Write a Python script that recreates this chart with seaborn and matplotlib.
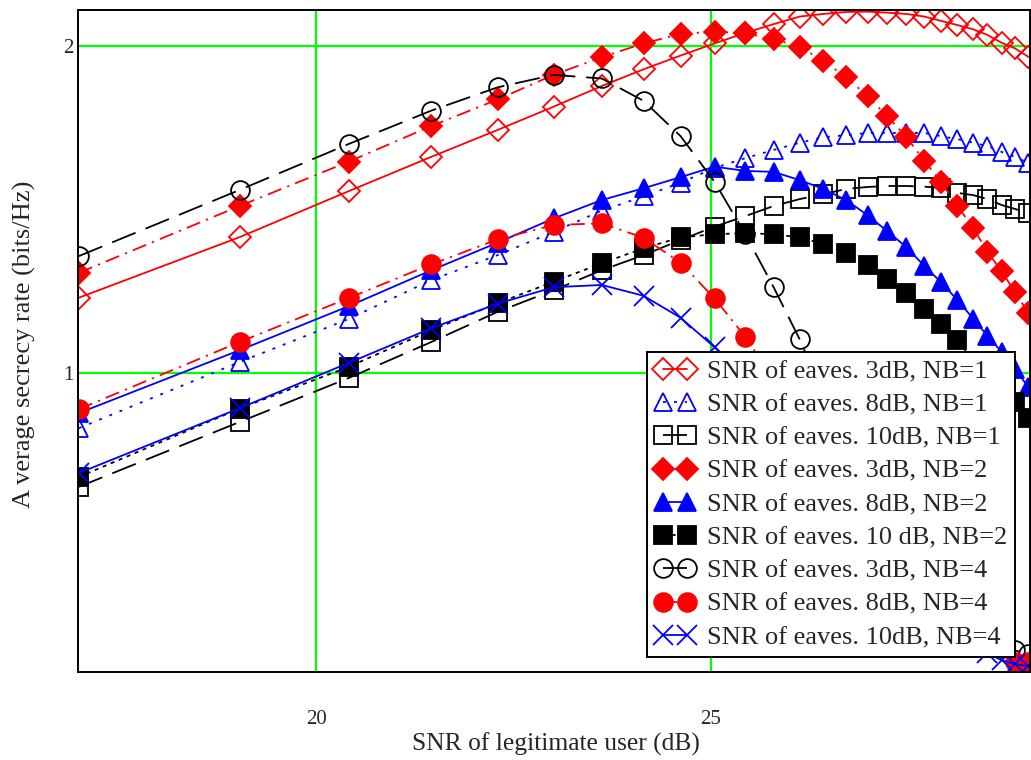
import numpy as np
import pandas as pd
import matplotlib
matplotlib.use("Agg")
import matplotlib.pyplot as plt
import seaborn as sns

# SNR of legitimate user (dB)
snr_db = [16.99, 19.03, 20.41, 21.46, 22.30, 23.01, 23.62, 24.15, 24.62, 25.05,
          25.44, 25.80, 26.13, 26.43, 26.72, 26.99, 27.24, 27.48, 27.71, 27.92,
          28.13, 28.33, 28.51, 28.69, 28.86, 29.03]

# Average secrecy rate (bits/Hz)
e3_nb1 = [1.231, 1.416, 1.556, 1.661, 1.743, 1.814, 1.877, 1.928, 1.970, 2.007,
          2.039, 2.066, 2.089, 2.097, 2.103, 2.104, 2.101, 2.097, 2.089, 2.076,
          2.063, 2.050, 2.033, 2.009, 1.992, 1.966]
e8_nb1 = [0.833, 1.035, 1.166, 1.285, 1.361, 1.432, 1.497, 1.540, 1.582, 1.627,
          1.657, 1.682, 1.704, 1.721, 1.727, 1.734, 1.734, 1.734, 1.734, 1.724,
          1.715, 1.704, 1.694, 1.676, 1.661, 1.642]
e10_nb1 = [0.654, 0.852, 0.986, 1.096, 1.188, 1.254, 1.315, 1.361, 1.407, 1.448,
           1.480, 1.511, 1.532, 1.547, 1.563, 1.569, 1.572, 1.572, 1.570, 1.566,
           1.551, 1.544, 1.532, 1.514, 1.502, 1.489]
e3_nb2 = [1.307, 1.511, 1.646, 1.755, 1.836, 1.911, 1.965, 2.007, 2.036, 2.043,
          2.038, 2.020, 1.997, 1.953, 1.904, 1.846, 1.785, 1.722, 1.649, 1.585,
          1.511, 1.444, 1.371, 1.312, 1.248, 1.184]
e8_nb2 = [0.879, 1.071, 1.205, 1.315, 1.399, 1.473, 1.529, 1.565, 1.599, 1.631,
          1.618, 1.615, 1.590, 1.563, 1.529, 1.483, 1.434, 1.386, 1.328, 1.279,
          1.224, 1.167, 1.115, 1.066, 1.013, 0.958]
e10_nb2 = [0.684, 0.893, 1.020, 1.132, 1.214, 1.280, 1.336, 1.382, 1.415, 1.425,
           1.428, 1.425, 1.415, 1.395, 1.366, 1.331, 1.288, 1.244, 1.198, 1.150,
           1.102, 1.035, 0.995, 0.955, 0.912, 0.864]
e3_nb4 = [1.358, 1.560, 1.700, 1.802, 1.873, 1.911, 1.900, 1.832, 1.724, 1.585,
          1.425, 1.263, 1.104, 0.934, 0.781, 0.644, 0.522, 0.415, 0.332, 0.271,
          0.226, 0.195, 0.177, 0.164, 0.155, 0.143]
e8_nb4 = [0.891, 1.096, 1.230, 1.333, 1.409, 1.453, 1.458, 1.414, 1.338, 1.229,
          1.112, 0.980, 0.842, 0.711, 0.598, 0.491, 0.400, 0.323, 0.262, 0.223,
          0.195, 0.180, 0.171, 0.161, 0.119, 0.119]
e10_nb4 = [0.696, 0.894, 1.032, 1.138, 1.213, 1.263, 1.270, 1.237, 1.170, 1.080,
           0.986, 0.888, 0.796, 0.705, 0.613, 0.531, 0.455, 0.384, 0.323, 0.271,
           0.226, 0.192, 0.146, 0.125, 0.113, 0.107]

labels = ["SNR of eaves. 3dB, NB=1", "SNR of eaves. 8dB, NB=1",
          "SNR of eaves. 10dB, NB=1", "SNR of eaves. 3dB, NB=2",
          "SNR of eaves. 8dB, NB=2", "SNR of eaves. 10 dB, NB=2",
          "SNR of eaves. 3dB, NB=4", "SNR of eaves. 8dB, NB=4",
          "SNR of eaves. 10dB, NB=4"]
series = [e3_nb1, e8_nb1, e10_nb1, e3_nb2, e8_nb2, e10_nb2, e3_nb4, e8_nb4, e10_nb4]

RED, BLUE, BLACK = "#ff0000", "#0000ff", "#000000"
dashdot = (0, (8, 3.5, 1.2, 3.5))
longdash = (0, (14, 6))
dotted = (0, (1.6, 4.5))
bdotted = (0, (2.2, 2.6))
styles = [
    dict(color=RED, marker="D", ms=11, mfc="none", ls="-"),
    dict(color=BLUE, marker="^", ms=13, mfc="none", ls=dotted),
    dict(color=BLACK, marker="s", ms=12.5, mfc="none", ls=longdash),
    dict(color=RED, marker="D", ms=11, mfc=RED, ls=dashdot),
    dict(color=BLUE, marker="^", ms=13, mfc=BLUE, ls="-"),
    dict(color=BLACK, marker="s", ms=12.5, mfc=BLACK, ls=bdotted),
    dict(color=BLACK, marker="o", ms=13.5, mfc="none", ls=longdash),
    dict(color=RED, marker="o", ms=13.5, mfc=RED, ls=dashdot),
    dict(color=BLUE, marker="x", ms=15, mfc=BLUE, ls="-"),
]

sns.set_style("white")
plt.rcParams["font.family"] = ["Liberation Serif", "DejaVu Serif"]

fig = plt.figure(figsize=(10.31, 7.60), dpi=100)
W, H = 1031, 760
ax = fig.add_axes([78 / W, (H - 672) / H, (1030 - 78) / W, (672 - 10) / H])

for lab, vals, st in zip(labels, series, styles):
    df = pd.DataFrame({"snr": snr_db, "rate": vals})
    sns.lineplot(data=df, x="snr", y="rate", ax=ax, color=st["color"],
                 marker=st["marker"], markersize=st["ms"],
                 markerfacecolor=st["mfc"], markeredgecolor=st["color"],
                 markeredgewidth=1.3, linestyle=st["ls"], linewidth=1.3,
                 label=lab, sort=False, errorbar=None)

ax.set_xlim(16.98, 29.05)
ax.set_ylim(0.089, 2.109)
ax.set_xticks([20, 25])
ax.set_yticks([1, 2])
ax.tick_params(axis="x", length=0, pad=27, labelsize=15)
ax.tick_params(axis="y", length=0, pad=3, labelsize=15)
ax.grid(True, color="#00ff00", linewidth=1.6)
ax.set_axisbelow(True)
for s in ax.spines.values():
    s.set_color("black")
    s.set_linewidth(1.4)
ax.set_xlabel("")
ax.set_ylabel("")

fig.text(556 / W, 1 - 744 / H, "SNR of legitimate user (dB)", ha="center",
         va="center", fontsize=18.4)
fig.text(24 / W, 1 - 344 / H, "A verage secrecy rate (bits/Hz)", ha="center",
         va="center", rotation=90, fontsize=19)

leg = ax.legend(loc="lower right", bbox_to_anchor=(0.984, 0.0227),
                borderaxespad=0, fontsize=19, numpoints=2, handlelength=1.5,
                handletextpad=0.45, labelspacing=0.37, borderpad=0.3,
                fancybox=False, framealpha=1, edgecolor="black")
leg.get_frame().set_linewidth(1.4)
leg.set_zorder(10)

fig.savefig("out.png", dpi=100)
